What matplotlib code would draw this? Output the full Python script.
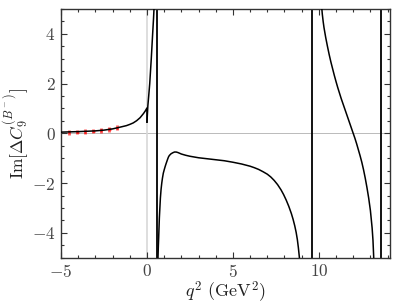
import matplotlib
matplotlib.use('Agg')
import matplotlib.pyplot as plt
from matplotlib.ticker import MultipleLocator

plt.rcParams['font.family'] = 'serif'
plt.rcParams['font.serif'] = ['cmr10', 'DejaVu Serif']
plt.rcParams['mathtext.fontset'] = 'cm'
plt.rcParams['axes.formatter.use_mathtext'] = True

# ---- data -----------------------------------------------------------------
# branch below q^2 = 0 (ends with the jump at q^2 = 0)
x_left = [-5, -4.5, -4, -3.5, -3, -2.5, -2, -1.5, -1.2, -1, -0.8, -0.6,
          -0.4, -0.2, -0.1, 0, 0]
y_left = [0.05, 0.06, 0.07, 0.085, 0.1, 0.13, 0.18, 0.26, 0.31, 0.36,
          0.42, 0.51, 0.63, 0.8, 0.9, 1.02, 0.45]

# between q^2 = 0 and the rho/omega pole
x_low = [0, 0.05, 0.1, 0.16, 0.25, 0.33, 0.38, 0.43]
y_low = [0.45, 1.1, 1.5, 2.0, 3.0, 4.0, 4.6, 5.3]

# between rho/omega and J/psi
x_mid = [0.64, 0.66, 0.68, 0.7, 0.72, 0.75, 0.78, 0.82, 0.86, 0.9, 0.95,
         1.0, 1.05, 1.1, 1.15, 1.2, 1.25, 1.3, 1.4, 1.5, 1.6, 1.7, 1.8,
         1.9, 2.0, 2.25, 2.5, 2.75, 3.0, 3.5, 4.0, 4.5, 5.0, 5.5, 6.0, 6.25,
         6.5, 6.75, 7.0, 7.2, 7.4, 7.6, 7.8, 7.95, 8.1, 8.25, 8.4, 8.5, 8.6,
         8.68, 8.75, 8.81, 8.87]
y_mid = [-5.0, -4.55, -4.2, -3.8, -3.4, -3.0, -2.6, -2.25, -2.0, -1.8,
         -1.6, -1.47, -1.35, -1.24, -1.14, -1.04, -0.95, -0.89, -0.82,
         -0.78, -0.75, -0.75, -0.77, -0.8, -0.83, -0.88, -0.92, -0.95,
         -0.98, -1.02, -1.06, -1.1, -1.16, -1.23, -1.32, -1.38, -1.45,
         -1.54, -1.64, -1.75, -1.89, -2.06, -2.27, -2.46, -2.68, -2.93,
         -3.22, -3.45, -3.72, -3.98, -4.27, -4.6, -5.0]

# between J/psi and psi(2S)
x_high = [10.15, 10.2, 10.25, 10.3, 10.4, 10.5, 10.6, 10.7, 10.8, 10.9,
          11.0, 11.1, 11.2, 11.3, 11.4, 11.5, 11.6, 11.7, 11.8, 11.9, 12.0,
          12.1, 12.2, 12.3, 12.4, 12.5, 12.6, 12.7, 12.8, 12.9, 13.0, 13.1,
          13.15, 13.2]
y_high = [5.2, 4.8, 4.5, 4.25, 3.85, 3.5, 3.17, 2.87, 2.6, 2.33, 2.08,
          1.84, 1.62, 1.4, 1.2, 1.0, 0.8, 0.6, 0.4, 0.2, 0.0, -0.2, -0.42,
          -0.66, -0.9, -1.16, -1.46, -1.8, -2.18, -2.6, -3.1, -3.8, -4.3,
          -5.1]

# resonance positions (GeV^2)
poles = [0.6, 9.59, 13.6]

# red points with errors
x_pts = [-4.52, -4.05, -3.59, -3.12, -2.66, -2.19, -1.73]
y_pts = [0.04, 0.05, 0.07, 0.09, 0.12, 0.16, 0.23]
y_err = [0.09] * len(x_pts)
# ---------------------------------------------------------------------------

fig = plt.figure(figsize=(3.99, 3.08), dpi=100)
ax = fig.add_axes([0.153, 0.163, 0.824, 0.808])

ax.axhline(0, color='#b0b0b0', lw=0.6, zorder=1)
ax.axvline(0, color='#d8d8d8', lw=1.2, zorder=1)
for p in poles:
    ax.axvline(p, color='black', lw=1.3, zorder=2)

ax.errorbar(x_pts, y_pts, yerr=y_err, xerr=0.07, fmt='none', ecolor='red',
            elinewidth=2.0, alpha=0.65, zorder=3)

for xs, ys in [(x_left, y_left), (x_low, y_low), (x_mid, y_mid),
               (x_high, y_high)]:
    ax.plot(xs, ys, color='black', lw=1.1, zorder=4)

ax.set_xlim(-5, 14.13)
ax.set_ylim(-5, 5)
ax.xaxis.set_major_locator(MultipleLocator(5))
ax.xaxis.set_minor_locator(MultipleLocator(1))
ax.yaxis.set_major_locator(MultipleLocator(2))
ax.yaxis.set_minor_locator(MultipleLocator(0.5))
ax.tick_params(which='both', direction='in', top=True, right=True,
               labelsize=12.5, color='#333333', labelcolor='#444444')
ax.tick_params(which='major', length=4.5, width=0.8)
ax.tick_params(which='minor', length=2.5, width=0.8)
ax.tick_params(axis='x', pad=3.5)
ax.tick_params(axis='y', pad=4)
for s in ax.spines.values():
    s.set_color('#333333')
    s.set_linewidth(1.0)

ax.set_xlabel(r'$q^2$ (GeV$^2$)', fontsize=13, labelpad=0, color='#222222')
ax.set_ylabel(r'$\mathrm{Im}[\Delta C_9^{(B^-)}]$', fontsize=12.5,
              labelpad=1, color='#222222')

fig.savefig('out.png', dpi=100)
